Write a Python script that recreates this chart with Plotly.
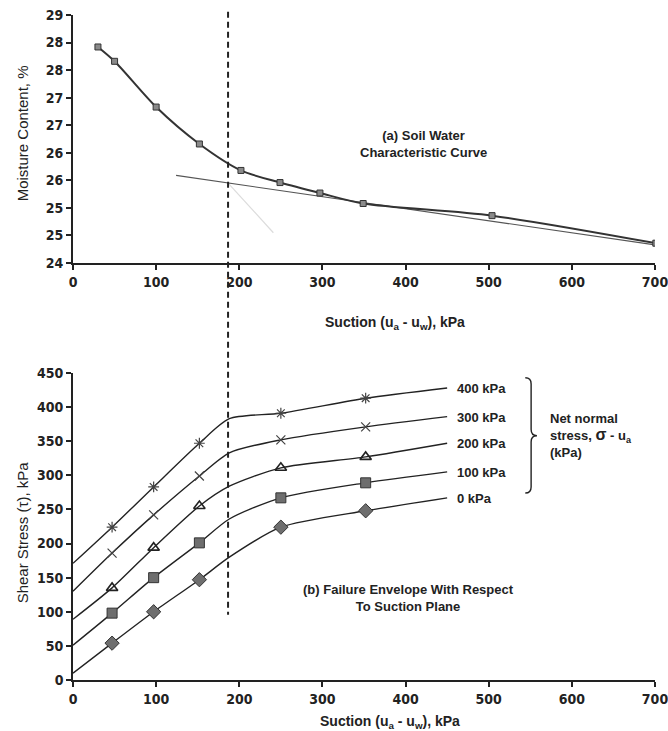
import plotly.graph_objects as go

# ---------------- data: (a) soil water characteristic curve ----------------
suction_a = [30, 50, 100, 152, 202, 249, 297, 349, 504, 701]
moisture = [28.42, 28.16, 27.33, 26.66, 26.18, 25.96, 25.77, 25.58, 25.36, 24.86]
tangent_x = [124, 700]
tangent_y = [26.09, 24.83]
steep_tan_x = [186, 241]
steep_tan_y = [25.96, 25.05]
yticks_a = [24.5, 25, 25.5, 26, 26.5, 27, 27.5, 28, 28.5, 29]
yticklabels_a = ["24", "25", "25", "26", "26", "27", "27", "28", "28", "29"]
xticks = [0, 100, 200, 300, 400, 500, 600, 700]

# ---------------- data: (b) failure envelope ----------------
marker_x = [47, 97, 152, 250, 352]
curve_x = [0, 47, 97, 152, 188, 250, 352, 450]
stress_labels = ["400 kPa", "300 kPa", "200 kPa", "100 kPa", "0 kPa"]
shear_400 = [171, 224, 283, 347, 383, 391, 413, 428]
shear_300 = [130, 186, 242, 299, 333, 352, 371, 386]
shear_200 = [89, 135, 194, 255, 284, 311, 327, 347]
shear_100 = [51, 98, 150, 201, 236, 267, 289, 305]
shear_0 = [10, 54, 100, 147, 180, 224, 248, 267]
marker_idx = [1, 2, 3, 5, 6]
yticks_b = [0, 50, 100, 150, 200, 250, 300, 350, 400, 450]
transition_suction = 186.5

series = [
    (stress_labels[0], shear_400, dict(symbol="asterisk-open", size=9, color="#444", line=dict(color="#444", width=1.2))),
    (stress_labels[1], shear_300, dict(symbol="x-thin-open", size=9, color="#444", line=dict(color="#444", width=1.2))),
    (stress_labels[2], shear_200, dict(symbol="triangle-up-open", size=10, color="#222", line=dict(color="#222", width=1.6))),
    (stress_labels[3], shear_100, dict(symbol="square", size=10, color="#6e6e6e", line=dict(color="#333", width=1))),
    (stress_labels[4], shear_0, dict(symbol="diamond", size=11, color="#6e6e6e", line=dict(color="#333", width=1))),
]

TICKFONT = dict(family="DejaVu Sans Condensed, Liberation Sans Narrow, Liberation Sans", size=14, color="#222",
                weight="bold")
TXT = "Liberation Sans, Arial, sans-serif"

fig = go.Figure()

# (a) traces
fig.add_trace(go.Scatter(x=steep_tan_x, y=steep_tan_y, mode="lines",
                         line=dict(color="#dcdcdc", width=1.2), xaxis="x", yaxis="y", showlegend=False))
fig.add_trace(go.Scatter(x=tangent_x, y=tangent_y, mode="lines",
                         line=dict(color="#555", width=1.1), xaxis="x", yaxis="y", showlegend=False))
fig.add_trace(go.Scatter(x=suction_a, y=moisture, mode="lines+markers",
                         line=dict(color="#333", width=2, shape="spline", smoothing=0.8),
                         marker=dict(symbol="square", size=6, color="#8a8a8a", line=dict(color="#333", width=1)),
                         xaxis="x", yaxis="y", showlegend=False))

# (b) traces
for name, vals, mk in series:
    fig.add_trace(go.Scatter(x=curve_x, y=vals, mode="lines",
                             line=dict(color="#222", width=1.4, shape="spline", smoothing=0.7),
                             xaxis="x2", yaxis="y2", showlegend=False, name=name))
    fig.add_trace(go.Scatter(x=[curve_x[i] for i in marker_idx], y=[vals[i] for i in marker_idx],
                             mode="markers", marker=mk, xaxis="x2", yaxis="y2", showlegend=False))
    fig.add_annotation(x=curve_x[-1] + 9, y=vals[-1] - 1, xref="x2", yref="y2", text="<b>%s</b>" % name,
                       showarrow=False, xanchor="left", yanchor="middle",
                       font=dict(family=TXT, size=13, color="#222"))

axis_common = dict(showline=True, linecolor="#222", linewidth=1.6, ticks="outside", ticklen=5,
                   tickcolor="#222", tickwidth=1.5, showgrid=False, zeroline=False, tickfont=TICKFONT,
                   ticklabeloverflow="allow", automargin=False)

fig.update_layout(
    width=668, height=731,
    margin=dict(l=73, r=13, t=15, b=51),
    paper_bgcolor="white", plot_bgcolor="white",
    xaxis=dict(domain=[0, 1], range=[0, 700], tickvals=xticks, anchor="y", **axis_common),
    yaxis=dict(domain=[0.627, 1], range=[24.5, 29], tickvals=yticks_a, ticktext=yticklabels_a,
               anchor="x", **axis_common),
    xaxis2=dict(domain=[0, 1], range=[0, 700], tickvals=xticks, anchor="y2", **axis_common),
    yaxis2=dict(domain=[0, 0.4617], range=[0, 450], tickvals=yticks_b, anchor="x2", **axis_common),
)

# dashed transition line across both panels
fig.add_shape(type="line", xref="x", yref="paper", x0=transition_suction, x1=transition_suction,
              y0=1.005, y1=0.098, line=dict(color="#222", width=2, dash="6px,4px"))

# brace
fig.add_shape(type="path", xref="x2", yref="y2",
              path="M 544,443 Q 551,443 551,434 L 551,367 Q 551,358 558,358 Q 551,358 551,349 L 551,283 Q 551,274 544,274",
              line=dict(color="#222", width=1.4))

ann_font = dict(family=TXT, size=13, color="#222")
fig.add_annotation(x=421, y=26.66, xref="x", yref="y", text="<b>(a) Soil Water<br>Characteristic Curve</b>",
                   showarrow=False, font=ann_font, align="center")
fig.add_annotation(x=404, y=120, xref="x2", yref="y2",
                   text="<b>(b) Failure Envelope With Respect<br>To Suction Plane</b>",
                   showarrow=False, font=ann_font, align="center")
fig.add_annotation(x=571, y=358, xref="x2", yref="y2",
                   text="<b>Net normal<br>stress, <span style='font-size:16px'>σ</span> - u<sub>a</sub><br>(kPa)</b>",
                   showarrow=False, xanchor="left", align="left", font=dict(family=TXT, size=13, color="#222"))

# axis titles
title_font = dict(family=TXT, size=14, color="#222")
fig.add_annotation(x=387, y=0.537, xref="x", yref="paper", text="<b>Suction (u<sub>a</sub> - u<sub>w</sub>), kPa</b>",
                   showarrow=False, font=title_font, xanchor="center", yanchor="middle")
fig.add_annotation(x=381, y=-0.063, xref="x2", yref="paper", text="<b>Suction (u<sub>a</sub> - u<sub>w</sub>), kPa</b>",
                   showarrow=False, font=title_font, xanchor="center", yanchor="middle")
fig.add_annotation(x=-0.087, y=(680 - 133) / 665, xref="paper", yref="paper", text="Moisture Content, %",
                   showarrow=False, textangle=-90, xanchor="center", yanchor="middle",
                   font=dict(family=TXT, size=15, color="#222"))
fig.add_annotation(x=-0.087, y=(680 - 532) / 665, xref="paper", yref="paper", text="Shear Stress (τ), kPa",
                   showarrow=False, textangle=-90, xanchor="center", yanchor="middle",
                   font=dict(family=TXT, size=15, color="#222"))

fig.write_html("out.html")
